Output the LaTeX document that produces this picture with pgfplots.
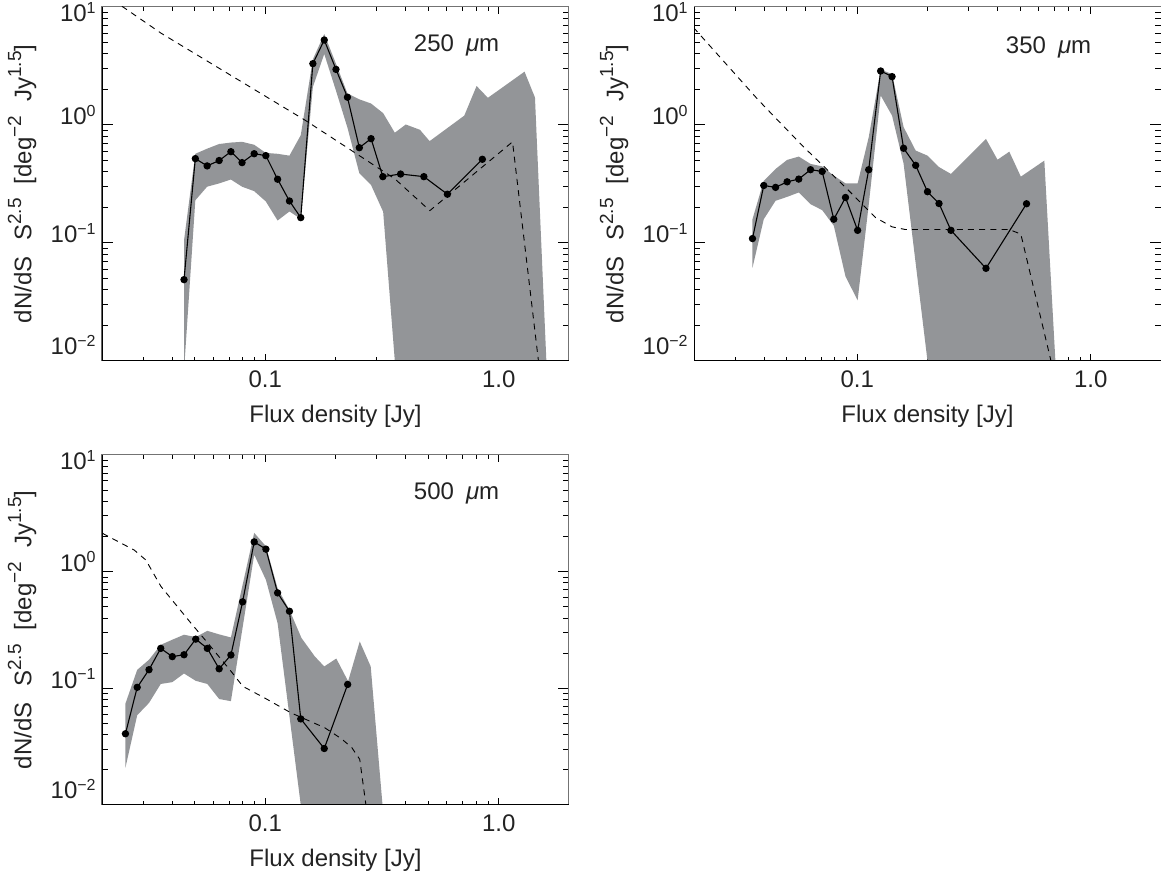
\documentclass[border=0pt]{standalone}
\usepackage{fontspec}
\setmainfont{Liberation Sans}
\usepackage{pgfplots}
\pgfplotsset{compat=1.18}
\usepackage{pgfplotstable}

\definecolor{bandgray}{RGB}{147,149,152}
\definecolor{txtgray}{RGB}{35,35,35}

% superscript used in the axis titles
\newcommand{\sps}[1]{\raisebox{0.42em}{\fontsize{9.5}{10}\selectfont #1}}

% ---------------- 250 micron ----------------
\pgfplotstableread{
x y
0.0449 0.0489
0.0502 0.519
0.0564 0.450
0.0635 0.500
0.0713 0.594
0.0796 0.480
0.0897 0.571
0.1006 0.550
0.113 0.347
0.127 0.227
0.142 0.164
0.160 3.31
0.179 5.25
0.201 2.96
0.225 1.72
0.253 0.642
0.284 0.766
0.319 0.365
0.380 0.384
0.478 0.365
0.603 0.259
0.851 0.512
}\ptsA

% confidence band: upper edge left to right, then lower edge right to left
\pgfplotstableread{
x y
0.0449 0.105
0.0502 0.57
0.0564 0.63
0.0635 0.69
0.0713 0.71
0.0796 0.72
0.0897 0.68
0.1006 0.58
0.113 0.57
0.127 0.55
0.142 0.82
0.160 3.6
0.179 5.9
0.201 3.3
0.225 1.85
0.253 1.65
0.284 1.52
0.320 1.26
0.359 0.86
0.400 1.01
0.460 0.91
0.506 0.73
0.712 1.20
0.804 2.14
0.899 1.70
1.29 2.83
1.43 1.71
1.60 0.01
1.61 0.001
0.362 0.001
0.359 0.01
0.320 0.184
0.284 0.31
0.253 0.39
0.225 0.95
0.201 1.95
0.179 4.0
0.160 2.1
0.142 0.16
0.127 0.185
0.113 0.155
0.1006 0.225
0.0897 0.275
0.0796 0.30
0.0713 0.345
0.0635 0.32
0.0564 0.30
0.0502 0.23
0.0452 0.01
0.0449 0.001
}\bandA

\pgfplotstableread{
x y
0.0203 13.0
0.0358 6.0
0.148 1.10
0.359 0.35
0.507 0.188
1.146 0.72
1.48 0.01
1.52 0.005
}\modelA

% ---------------- 350 micron ----------------
\pgfplotstableread{
x y
0.0356 0.109
0.0398 0.307
0.0447 0.296
0.0501 0.330
0.0562 0.348
0.0631 0.418
0.0708 0.404
0.0794 0.159
0.0891 0.243
0.1004 0.128
0.112 0.418
0.126 2.87
0.141 2.57
0.158 0.635
0.178 0.455
0.200 0.272
0.224 0.216
0.252 0.128
0.356 0.061
0.531 0.215
}\ptsB

\pgfplotstableread{
x y
0.0356 0.159
0.0398 0.337
0.0447 0.424
0.0501 0.506
0.0562 0.54
0.0631 0.468
0.0708 0.446
0.0794 0.372
0.0891 0.32
0.1004 0.32
0.112 0.787
0.126 2.95
0.141 2.70
0.158 0.96
0.178 0.607
0.200 0.55
0.224 0.44
0.252 0.385
0.356 0.762
0.399 0.508
0.448 0.594
0.502 0.365
0.633 0.499
0.706 0.01
0.710 0.001
0.205 0.001
0.200 0.01
0.158 0.47
0.141 1.20
0.126 1.78
0.112 0.21
0.1004 0.0327
0.0891 0.052
0.0794 0.14
0.0708 0.19
0.0631 0.213
0.0562 0.268
0.0501 0.246
0.0447 0.228
0.0398 0.159
0.0356 0.0617
}\bandB

\pgfplotstableread{
x y
0.0199 6.7
0.0378 1.62
0.0581 0.67
0.0891 0.296
0.120 0.164
0.141 0.137
0.161 0.130
0.448 0.130
0.502 0.119
0.676 0.01
0.690 0.005
}\modelB

% ---------------- 500 micron ----------------
\pgfplotstableread{
x y
0.0252 0.0408
0.0283 0.102
0.0318 0.1445
0.0357 0.220
0.0400 0.187
0.0449 0.194
0.0504 0.264
0.0565 0.220
0.0635 0.147
0.0713 0.193
0.0800 0.551
0.0897 1.80
0.1007 1.56
0.113 0.658
0.127 0.458
0.142 0.0547
0.179 0.0305
0.2255 0.108
}\ptsC

\pgfplotstableread{
x y
0.0252 0.074
0.0283 0.144
0.0318 0.176
0.0357 0.236
0.0400 0.261
0.0449 0.288
0.0504 0.275
0.0565 0.311
0.0635 0.29
0.0713 0.273
0.0897 2.15
0.1007 1.65
0.113 0.72
0.127 0.47
0.143 0.27
0.163 0.188
0.179 0.154
0.2016 0.18
0.2265 0.115
0.254 0.252
0.283 0.154
0.318 0.01
0.320 0.001
0.145 0.001
0.142 0.01
0.113 0.362
0.1007 0.85
0.0897 1.4
0.0713 0.0776
0.0635 0.081
0.0565 0.109
0.0504 0.116
0.0449 0.134
0.0400 0.113
0.0357 0.109
0.0318 0.075
0.0283 0.0588
0.0252 0.0209
}\bandC

\pgfplotstableread{
x y
0.0201 2.13
0.0275 1.53
0.0308 1.26
0.0358 0.745
0.0481 0.362
0.0568 0.244
0.0714 0.140
0.0802 0.104
0.0993 0.0828
0.129 0.0616
0.180 0.0459
0.212 0.0370
0.235 0.0310
0.254 0.0246
0.270 0.010
0.275 0.005
}\modelC

% shared look of the three panels
\pgfplotsset{
  every axis/.append style={
    xmode=log, ymode=log,
    scale only axis,
    width=233.5pt,
    xmin=0.02, xmax=2.0, ymin=0.01, ymax=10,
    xtick={0.1,1}, xticklabels={0.1,1.0},
    minor xtick={0.02,0.03,0.04,0.05,0.06,0.07,0.08,0.09,0.2,0.3,0.4,0.5,0.6,0.7,0.8,0.9,2},
    ytick={0.01,0.1,1,10},
    yticklabels={\raisebox{3pt}{10\textsuperscript{−2}},10\textsuperscript{−1},10\textsuperscript{0},\raisebox{-7.5pt}{10\textsuperscript{1}}},
    minor ytick={0.02,0.03,0.04,0.05,0.06,0.07,0.08,0.09,0.2,0.3,0.4,0.5,0.6,0.7,0.8,0.9,2,3,4,5,6,7,8,9},
    tick align=inside,
    major tick length=5.3pt, minor tick length=3pt,
    every major x tick/.append style={/pgfplots/major tick length=3.4pt},
    every minor x tick/.append style={/pgfplots/minor tick length=2pt},
    tick style={black, line width=0.5pt},
    axis line style={black!55, line width=0.5pt},
    tick label style={font=\fontsize{12}{14}\selectfont, text=txtgray},
    xticklabel style={anchor=north, yshift=-1.3pt},
    yticklabel style={anchor=base east, inner xsep=2.5pt},
    xlabel={Flux density [Jy]},
    xlabel style={font=\fontsize{12}{14}\selectfont, text=txtgray,
      at={(axis description cs:0.5,0)}, anchor=base, yshift=-31pt},
    ylabel={dN/dS\hspace{8pt}S\sps{2.5}\hspace{7pt}[deg\sps{−2}\hspace{7pt}Jy\sps{1.5}]},
    ylabel style={font=\fontsize{12}{14}\selectfont, text=txtgray,
      at={(axis description cs:-0.171,0.5)}, anchor=center},
  },
}

\begin{document}
\begin{tikzpicture}
\useasboundingbox (0,0) rectangle (580.5pt,435.5pt);

\begin{axis}[height=177pt, at={(51pt,255pt)}, anchor=south west]
  \addplot[fill=bandgray, draw=none] table {\bandA} -- cycle;
  \addplot[black, line width=0.45pt, dash pattern=on 3pt off 2.6pt] table {\modelA};
  \addplot[black, line width=0.55pt, mark=*, mark size=1.55pt, mark options={solid, fill=black}] table {\ptsA};
  \node[font=\fontsize{12}{14}\selectfont, text=txtgray] at (axis cs:0.66,4.7) {250\hspace{0.5em}{\itshape μ}m};
  \draw[black, line width=1pt] (rel axis cs:0,1) -- (rel axis cs:0,0) -- (rel axis cs:1,0);
\end{axis}

\begin{axis}[height=177pt, at={(347pt,255pt)}, anchor=south west]
  \addplot[fill=bandgray, draw=none] table {\bandB} -- cycle;
  \addplot[black, line width=0.45pt, dash pattern=on 3pt off 2.6pt] table {\modelB};
  \addplot[black, line width=0.55pt, mark=*, mark size=1.55pt, mark options={solid, fill=black}] table {\ptsB};
  \node[font=\fontsize{12}{14}\selectfont, text=txtgray] at (axis cs:0.66,4.5) {350\hspace{0.5em}{\itshape μ}m};
  \draw[black, line width=1pt] (rel axis cs:0,1) -- (rel axis cs:0,0) -- (rel axis cs:1,0);
\end{axis}

\begin{axis}[height=175pt, at={(51pt,33pt)}, anchor=south west]
  \addplot[fill=bandgray, draw=none] table {\bandC} -- cycle;
  \addplot[black, line width=0.45pt, dash pattern=on 3pt off 2.6pt] table {\modelC};
  \addplot[black, line width=0.55pt, mark=*, mark size=1.55pt, mark options={solid, fill=black}] table {\ptsC};
  \node[font=\fontsize{12}{14}\selectfont, text=txtgray] at (axis cs:0.66,4.7) {500\hspace{0.5em}{\itshape μ}m};
  \draw[black, line width=1pt] (rel axis cs:0,1) -- (rel axis cs:0,0) -- (rel axis cs:1,0);
\end{axis}
\end{tikzpicture}
\end{document}
